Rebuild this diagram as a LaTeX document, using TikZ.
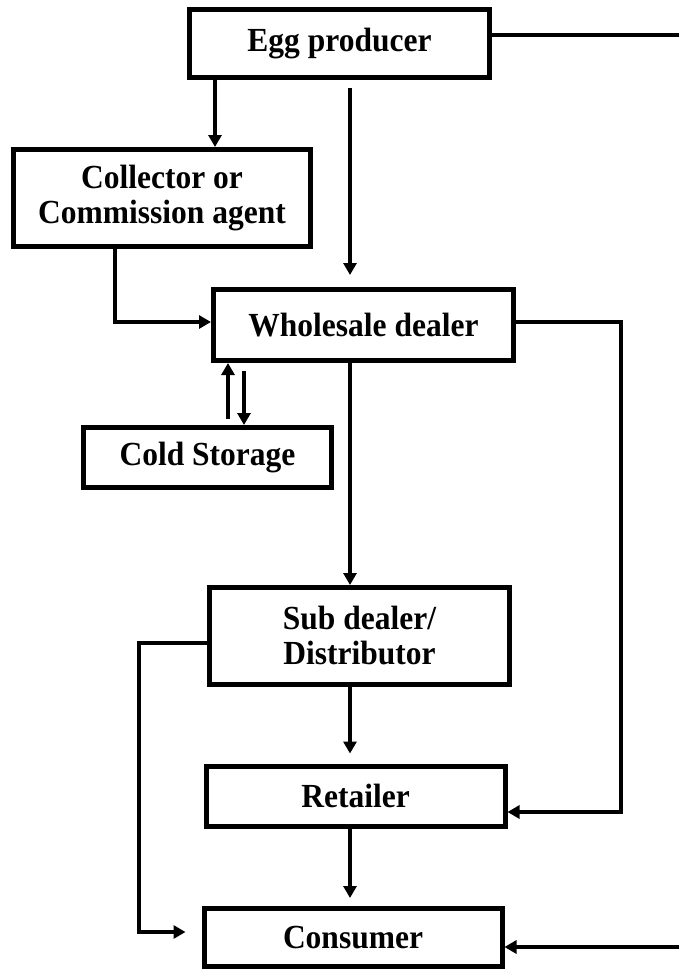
\documentclass[tikz,border=0pt]{standalone}
\usepackage{fontspec}
\setmainfont{Liberation Serif}
\usetikzlibrary{arrows.meta,calc}
\newcommand\tallt[1]{\scalebox{1}[1.07]{#1}}
\begin{document}
\begin{tikzpicture}[x=1pt,y=-1pt,
  box/.style={draw,line width=5pt,inner sep=0pt,align=center,
    font=\fontsize{31.5}{35}\selectfont\bfseries},
  arr/.style={line width=4.5pt,-{Triangle[length=12pt,width=13pt]}}]
\useasboundingbox[fill=white] (0,0) rectangle (678,969);
\node[box,minimum width=300pt,minimum height=68pt] (egg) at (339.5,43.5) {\tallt{Egg producer}};
\node[box,minimum width=297pt,minimum height=97pt] (coll) at (162,198) {\tallt{Collector or}\\\tallt{Commission agent}};
\node[box,minimum width=300pt,minimum height=71pt] (whole) at (363.5,325) {\tallt{Wholesale dealer}};
\node[box,minimum width=248pt,minimum height=60pt] (cold) at (207.5,457.5) {\tallt{Cold Storage}};
\node[box,minimum width=300pt,minimum height=97pt] (sub) at (359.5,636) {\tallt{Sub dealer/}\\\tallt{Distributor}};
\node[box,minimum width=299pt,minimum height=60pt] (ret) at (355.5,796) {\tallt{Retailer}};
\node[box,minimum width=298pt,minimum height=58pt] (cons) at (353,937.5) {\tallt{Consumer}};
% egg -> collector
\draw[arr] (egg.south -| 215,0) -- (coll.north -| 215,0);
% egg -> wholesale
\draw[arr] ($(egg.south)+(10.5,8)$) -- ($(whole.north)+(-13.5,-12)$);
% collector -> wholesale
\coordinate (c1) at (115,322);
\draw[arr] (coll.south -| c1) -- (c1) -- (c1 -| whole.west);
% wholesale <-> cold storage
\draw[arr] ($(cold.north)+(20.5,-6)$) -- (whole.south -| 228,0);
\draw[arr] ($(whole.south)+(-119.5,8)$) -- (cold.north -| 244,0);
% wholesale -> sub dealer
\draw[arr] (whole.south -| 350,0) -- (sub.north -| 350,0);
% wholesale -> retailer
\coordinate (w1) at (621,322);
\coordinate (w2) at (621,812);
\draw[arr] (w1 -| whole.east) -- (w1) -- (w2) -- (w2 -| ret.east);
% sub dealer -> retailer
\draw[arr] (sub.south -| 350,0) -- ($(ret.north)+(-5.5,-10)$);
% retailer -> consumer
\draw[arr] (ret.south -| 350,0) -- ($(cons.north)+(-3,-8)$);
% sub dealer -> consumer
\coordinate (s1) at (139,643);
\coordinate (s2) at (139,932);
\draw[arr] (s1 -| sub.west) -- (s1) -- (s2) -- ($(s2 -| cons.west)+(-16,0)$);
% egg -> consumer
\coordinate (e1) at (686,35);
\coordinate (e2) at (686,947);
\draw[arr] (e1 -| egg.east) -- (e1) -- (e2) -- (e2 -| cons.east);
\end{tikzpicture}
\end{document}
